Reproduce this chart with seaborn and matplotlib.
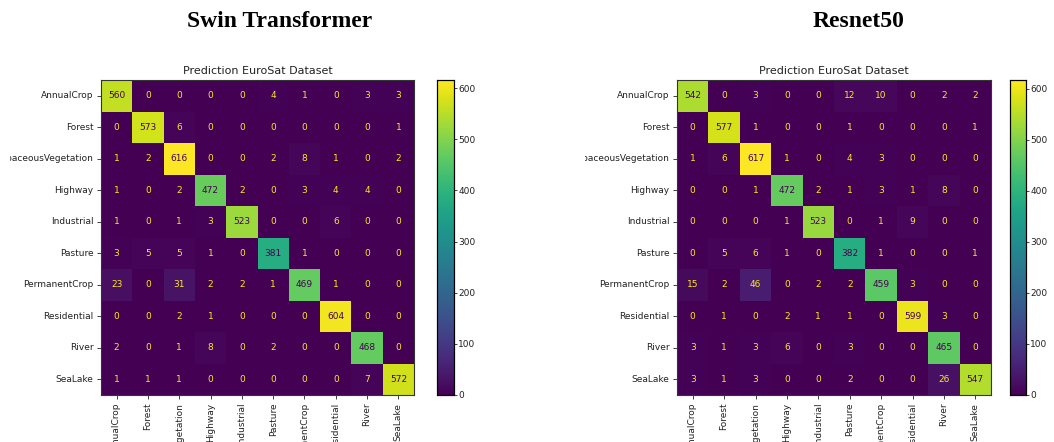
import matplotlib
matplotlib.use("Agg")
import matplotlib.pyplot as plt
from matplotlib.patches import Rectangle
import seaborn as sns
import numpy as np

# class names (rows = true, cols = predicted)
classes = ['AnnualCrop', 'Forest', 'HerbaceousVegetation', 'Highway', 'Industrial',
           'Pasture', 'PermanentCrop', 'Residential', 'River', 'SeaLake']

swin_cm = [
    [560, 0, 0, 0, 0, 4, 1, 0, 3, 3],
    [0, 573, 6, 0, 0, 0, 0, 0, 0, 1],
    [1, 2, 616, 0, 0, 2, 8, 1, 0, 2],
    [1, 0, 2, 472, 2, 0, 3, 4, 4, 0],
    [1, 0, 1, 3, 523, 0, 0, 6, 0, 0],
    [3, 5, 5, 1, 0, 381, 1, 0, 0, 0],
    [23, 0, 31, 2, 2, 1, 469, 1, 0, 0],
    [0, 0, 2, 1, 0, 0, 0, 604, 0, 0],
    [2, 0, 1, 8, 0, 2, 0, 0, 468, 0],
    [1, 1, 1, 0, 0, 0, 0, 0, 7, 572],
]

resnet_cm = [
    [542, 0, 3, 0, 0, 12, 10, 0, 2, 2],
    [0, 577, 1, 0, 0, 1, 0, 0, 0, 1],
    [1, 6, 617, 1, 0, 4, 3, 0, 0, 0],
    [0, 0, 1, 472, 2, 1, 3, 1, 8, 0],
    [0, 0, 0, 1, 523, 0, 1, 9, 0, 0],
    [0, 5, 6, 1, 0, 382, 1, 0, 0, 1],
    [15, 2, 46, 0, 2, 2, 459, 3, 0, 0],
    [0, 1, 0, 2, 1, 1, 0, 599, 3, 0],
    [3, 1, 3, 6, 0, 3, 0, 0, 465, 0],
    [3, 1, 3, 0, 0, 2, 0, 0, 26, 547],
]

model_names = ['Swin Transformer', 'Resnet50']
cbar_ticks = [0, 100, 200, 300, 400, 500, 600]

fig = plt.figure(figsize=(10.54, 4.42), dpi=100)
cmap = plt.get_cmap('viridis')

W, H = 1054.0, 442.0
panels = [
    (swin_cm, 101, 414, 437, 454),
    (resnet_cm, 677, 991, 1010, 1026),
]
top, bot = 80, 395

for (cm, x0, x1, c0, c1), name in zip(panels, model_names):
    cm = np.array(cm)
    ax = fig.add_axes([x0 / W, 1 - bot / H, (x1 - x0) / W, (bot - top) / H])
    cax = fig.add_axes([c0 / W, 1 - bot / H, (c1 - c0) / W, (bot - top) / H])
    sns.heatmap(cm, ax=ax, cbar_ax=cax, cmap='viridis', vmin=cm.min(), vmax=cm.max(),
                annot=True, fmt='d', annot_kws={'fontsize': 6.5},
                xticklabels=classes, yticklabels=classes, square=False)
    # text colour like sklearn ConfusionMatrixDisplay
    thresh = (cm.max() + cm.min()) / 2.0
    for t in ax.texts:
        v = int(t.get_text())
        t.set_color(cmap(0.0) if v >= thresh else cmap(1.0))
    for s in ax.spines.values():
        s.set_visible(True)
        s.set_linewidth(0.8)
        s.set_color('#333333')
    ax.tick_params(axis='both', labelsize=6.5, length=3, width=0.6, pad=2.5, colors='#222222')
    ax.set_xticklabels(classes, rotation=90, fontsize=6.5)
    ax.set_yticklabels(classes, rotation=0, fontsize=6.5)
    ax.set_title('Prediction EuroSat Dataset', fontsize=8, pad=4, color='#222222')
    cax.set_yticks(cbar_ticks)
    cax.tick_params(labelsize=6.5, length=2, width=0.6, pad=1, colors='#222222')
    for s in cax.spines.values():
        s.set_visible(True)
        s.set_linewidth(0.8)
    cb = ax.collections[0].colorbar
    cb.outline.set_visible(True)
    cb.outline.set_linewidth(0.8)

# the source images are cropped: hide the cut-off label starts
fig.add_artist(Rectangle((0, 0), 10 / W, 1, transform=fig.transFigure,
                         facecolor='white', edgecolor='none', zorder=10))
fig.add_artist(Rectangle((480 / W, 0), (585 - 480) / W, 0.86, transform=fig.transFigure,
                         facecolor='white', edgecolor='none', zorder=10))

fig.text(280 / W, 1 - 27 / H, model_names[0], ha='center', va='baseline',
         fontsize=17, fontweight='bold', family='Liberation Serif')
fig.text(859 / W, 1 - 27 / H, model_names[1], ha='center', va='baseline',
         fontsize=17, fontweight='bold', family='Liberation Serif')

fig.savefig('out.png', dpi=100)
